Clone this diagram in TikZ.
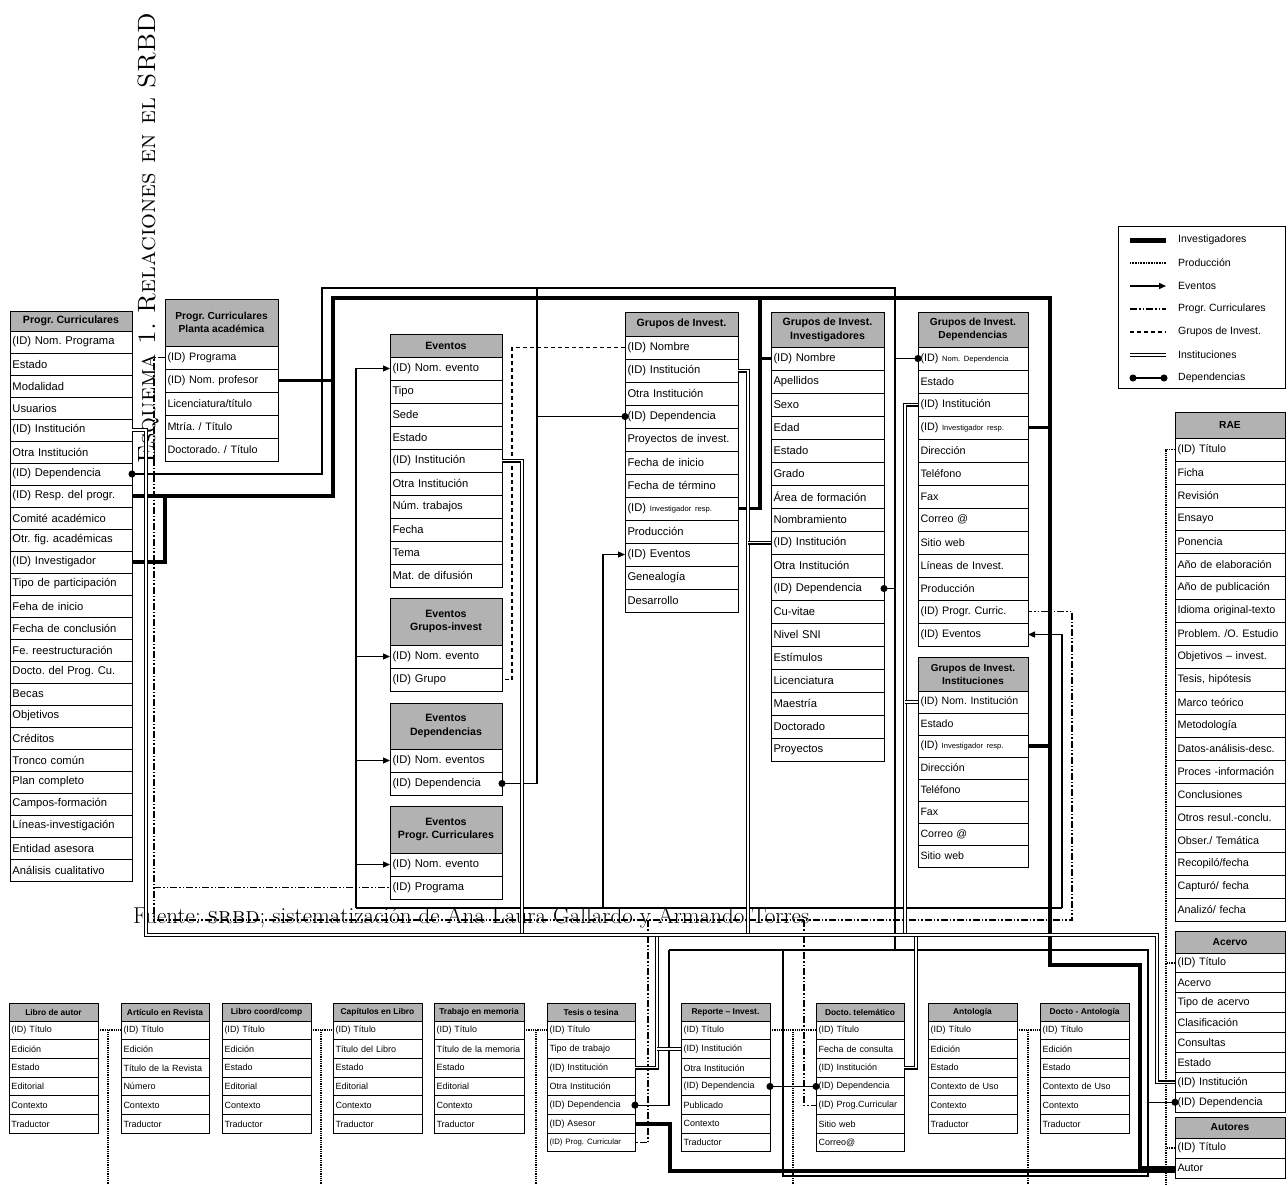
\documentclass[tikz,border=0pt]{standalone}
\usepackage{fontspec}
\newfontfamily\arial{Liberation Sans}
\usetikzlibrary{arrows.meta}
\frenchspacing

\newcommand{\chico}{\fontsize{7.6}{8}\selectfont}

% tabla: nombre, x, y, ancho, alto cabecera, alto fila, cabecera, filas, cuerpo de letra
\newcommand{\tabla}[9]{%
  \pgfmathsetmacro{\anch}{#4-5}
  \pgfmathsetmacro{\tcab}{#9-0.6}
  \pgfmathsetmacro{\tbase}{#9*1.22}
  \node[cab, font=\arial\bfseries\fontsize{\tcab}{\tbase}\selectfont,
        minimum width=#4pt, minimum height=#5pt] (#1) at (#2,#3) {#7};
  \foreach \txt [count=\i] in {#8} {
    \pgfmathsetmacro{\yfila}{#3+#5+(\i-1)*#6}
    \node[fila, font=\arial\fontsize{#9}{#9}\selectfont,
          text width=\anch pt, minimum height=#6pt] (#1-\i) at (#2,\yfila) {\txt};
  }
}

\tikzset{
  cab/.style={draw, fill=black!30, line width=1pt, align=center, inner sep=0pt, outer sep=0pt, anchor=north west},
  fila/.style={draw, fill=white, line width=1pt, align=left, inner xsep=2.5pt, inner ysep=0pt, outer sep=0pt, anchor=north west},
  lin/.style={line width=1.1pt},
  inv/.style={line width=3.8pt},
  prod/.style={line width=1.8pt, dash pattern=on 0.9pt off 0.9pt},
  evt/.style={line width=1.1pt, -{Triangle[length=7pt,width=6pt]}},
  pcur/.style={line width=1.3pt, dash pattern=on 7pt off 2pt on 1.5pt off 2pt on 1.5pt off 2pt},
  grp/.style={line width=1.3pt, dash pattern=on 4pt off 3pt},
  inst/.style={line width=1.4pt, double=white, double distance=1.2pt},
  dep/.style={line width=1.1pt},
  pto/.style={-{Circle[length=7pt]}, shorten >=-3.5pt},
  ptoi/.style={{Circle[length=7pt]}-, shorten <=-3.5pt},
  ptos/.style={{Circle[length=7pt]}-{Circle[length=7pt]}, shorten <=-3.5pt, shorten >=-3.5pt},
  ley/.style={anchor=west, inner sep=0pt, font=\arial\fontsize{10.5}{12}\selectfont}
}

\begin{document}
\begin{tikzpicture}[x=1pt,y=-1pt]
\useasboundingbox (0,0) rectangle (1288,1184);

% titulo y fuente
\node[rotate=90, inner sep=0pt, font=\fontsize{25}{25}\selectfont] (titulo) at (148,238) {\textsc{Esquema 1. Relaciones en el SRBD}};
\node[anchor=west, inner sep=0pt, font=\fontsize{23}{24}\selectfont] (fuente) at (133,918) {Fuente: \textsc{srbd}; sistematización de Ana Laura Gallardo y Armando Torres};

% tablas de arriba
\tabla{pc}{10}{311}{122}{20}{22}{Progr. Curriculares}{{(ID) Nom. Programa}, Estado, Modalidad, Usuarios, {(ID) Institución}, Otra Institución, {(ID) Dependencia}, {(ID) Resp. del progr.}, Comité académico, Otr. fig. académicas, {(ID) Investigador}, Tipo de participación, Feha de inicio, Fecha de conclusión, Fe. reestructuración, Docto. del Prog. Cu., Becas, Objetivos, Créditos, Tronco común, Plan completo, Campos-formación, Líneas-investigación, Entidad asesora, Análisis cualitativo}{11.2}
\tabla{pcpa}{165}{299}{113}{47}{23}{Progr. Curriculares\\Planta académica}{{(ID) Programa}, {(ID) Nom. profesor}, Licenciatura/título, Mtría. / Título, Doctorado. / Título}{10.8}
\tabla{ev}{390}{334}{112}{23}{23}{Eventos}{{(ID) Nom. evento}, Tipo, Sede, Estado, {(ID) Institución}, Otra Institución, Núm. trabajos, Fecha, Tema, Mat. de difusión}{11.2}
\tabla{egi}{390}{598}{112}{47}{23}{Eventos\\Grupos-invest}{{(ID) Nom. evento}, {(ID) Grupo}}{11.2}
\tabla{ed}{390}{703}{112}{46}{23}{Eventos\\Dependencias}{{(ID) Nom. eventos}, {(ID) Dependencia}}{11.2}
\tabla{epc}{390}{806}{112}{47}{23}{Eventos\\Progr. Curriculares}{{(ID) Nom. evento}, {(ID) Programa}}{11.2}
\tabla{gi}{625}{312}{113}{24}{23}{Grupos de Invest.}{{(ID) Nombre}, {(ID) Institución}, Otra Institución, {(ID) Dependencia}, Proyectos de invest., Fecha de inicio, Fecha de término, {(ID) {\chico Investigador resp.}}, Producción, {(ID) Eventos}, Genealogía, Desarrollo}{11.2}
\tabla{gii}{771}{312}{113}{35}{23}{Grupos de Invest.\\Investigadores}{{(ID) Nombre}, Apellidos, Sexo, Edad, Estado, Grado, Área de formación, Nombramiento, {(ID) Institución}, Otra Institución, {(ID) Dependencia}, Cu-vitae, Nivel SNI, Estímulos, Licenciatura, Maestría, Doctorado, Proyectos}{11.2}
\tabla{gid}{918}{312}{110}{35}{23}{Grupos de Invest.\\Dependencias}{{(ID) {\chico Nom. Dependencia}}, Estado, {(ID) Institución}, {(ID) {\chico Investigador resp.}}, Dirección, Teléfono, Fax, Correo @, Sitio web, Líneas de Invest., Producción, {(ID) Progr. Curric.}, {(ID) Eventos}}{10.8}
\tabla{gin}{918}{657}{110}{34}{22}{Grupos de Invest.\\Instituciones}{{(ID) Nom. Institución}, Estado, {(ID) {\chico Investigador resp.}}, Dirección, Teléfono, Fax, Correo @, Sitio web}{10.6}
\tabla{rae}{1175}{412}{110}{26}{23}{RAE}{{(ID) Título}, Ficha, Revisión, Ensayo, Ponencia, Año de elaboración, Año de publicación, Idioma original-texto, Problem. /O. Estudio, Objetivos – invest., {Tesis, hipótesis}, Marco teórico, Metodología, Datos-análisis-desc., Proces -información, Conclusiones, Otros resul.-conclu., Obser./ Temática, Recopiló/fecha, Capturó/ fecha, Analizó/ fecha}{10.8}
\tabla{ace}{1175}{931}{110}{22}{19.9}{Acervo}{{(ID) Título}, Acervo, Tipo de acervo, Clasificación, Consultas, Estado, {(ID) Institución}, {(ID) Dependencia}}{10.8}
\tabla{aut}{1175}{1117}{110}{21}{20}{Autores}{{(ID) Título}, Autor}{10.8}

% tablas de abajo
\tabla{la}{9}{1003}{89}{18}{18.7}{Libro de autor}{{(ID) Título}, Edición, Estado, Editorial, Contexto, Traductor}{9}
\tabla{ar}{121}{1003}{88}{18}{18.7}{Artículo en Revista}{{(ID) Título}, Edición, Título de la Revista, Número, Contexto, Traductor}{9}
\tabla{lc}{222}{1003}{89}{18}{18.7}{Libro coord/comp}{{(ID) Título}, Edición, Estado, Editorial, Contexto, Traductor}{9}
\tabla{cl}{333}{1003}{89}{18}{18.7}{Capítulos en Libro}{{(ID) Título}, Título del Libro, Estado, Editorial, Contexto, Traductor}{9}
\tabla{tm}{434}{1003}{90}{18}{18.7}{Trabajo en memoria}{{(ID) Título}, Título de la memoria, Estado, Editorial, Contexto, Traductor}{9}
\tabla{te}{547}{1003}{88}{18}{18.7}{Tesis o tesina}{{(ID) Título}, Tipo de trabajo, {(ID) Institución}, Otra Institución, {(ID) Dependencia}, {(ID) Asesor}, {{\fontsize{7.8}{8}\selectfont (ID) Prog. Curricular}}}{9}
\tabla{re}{681}{1003}{89}{18}{18.7}{Reporte – Invest.}{{(ID) Título}, {(ID) Institución}, Otra Institución, {(ID) Dependencia}, Publicado, Contexto, Traductor}{9}
\tabla{dt}{816}{1003}{88}{18}{18.7}{Docto. telemático}{{(ID) Título}, Fecha de consulta, {(ID) Institución}, {(ID) Dependencia}, {(ID) Prog.Curricular}, Sitio web, Correo@}{9}
\tabla{an}{928}{1003}{89}{18}{18.7}{Antología}{{(ID) Título}, Edición, Estado, Contexto de Uso, Contexto, Traductor}{9}
\tabla{da}{1040}{1003}{89}{18}{18.7}{Docto - Antología}{{(ID) Título}, Edición, Estado, Contexto de Uso, Contexto, Traductor}{9}

% Investigadores
\coordinate (t1) at (333,298);
\coordinate (t2) at (1050,298);
\coordinate (t3) at (760,298);
\coordinate (t4) at (1050,965);
\coordinate (t5) at (1140,965);
\draw[inv] (pc-8.east) -| (t1) -- (t2) -- (t4) -- (t5) |- (aut-2.west);
\draw[inv] (pc-11.east) -| ([xshift=33pt]pc-8.east);
\draw[inv] (pcpa-2.east) -- (pcpa-2.east -| t1);
\draw[inv] (gi-8.east) -| (t3);
\draw[inv] (gii-1.west) -- (gii-1.west -| t3);
\draw[inv] (gid-4.east) -- (gid-4.east -| t2);
\draw[inv] (gin-3.east) -- (gin-3.east -| t2);
\draw[inv] (te-6.east) -- ++(35,0) |- ([yshift=-3pt]aut-2.west);

% Produccion
\draw[prod] (la-1.east) -- (ar-1.west);
\draw[prod] ([xshift=10pt]la-1.east) -- ++(0,160);
\draw[prod] (lc-1.east) -- (cl-1.west);
\draw[prod] ([xshift=10pt]lc-1.east) -- ++(0,160);
\draw[prod] (tm-1.east) -- (te-1.west);
\draw[prod] ([xshift=12pt]tm-1.east) -- ++(0,160);
\draw[prod] (re-1.east) -- (dt-1.west);
\draw[prod] ([xshift=23pt]re-1.east) -- ++(0,160);
\draw[prod] (an-1.east) -- (da-1.west);
\draw[prod] ([xshift=11pt]an-1.east) -- ++(0,160);
\coordinate (r1) at (1166,1184);
\draw[prod] (rae-1.west) -| (r1);
\draw[prod] (ace-1.west) -- (ace-1.west -| r1);
\draw[prod] (aut-1.west) -- (aut-1.west -| r1);

% Eventos
\coordinate (e1) at (356,908);
\coordinate (e2) at (1062,908);
\coordinate (e3) at (603,908);
\draw[lin] (e1) -- (e2);
\draw[evt] (e1) |- (ev-1.west);
\draw[evt] (egi-1.west -| e1) -- (egi-1.west);
\draw[evt] (ed-1.west -| e1) -- (ed-1.west);
\draw[evt] (epc-1.west -| e1) -- (epc-1.west);
\draw[evt] (e2) |- (gid-13.east);
\draw[evt] (e3) |- (gi-10.west);

% Progr. Curriculares
\coordinate (p1) at (154,920);
\coordinate (p2) at (1072,920);
\coordinate (p3) at (648,920);
\coordinate (p4) at (804,920);
\draw[pcur] (pcpa-1.west) -| (p1) -- (p2) |- (gid-12.east);
\draw[pcur] (epc-2.west -| p1) -- (epc-2.west);
\draw[pcur] (p3) |- (te-7.east);
\draw[pcur] (p4) |- (dt-5.west);

% Grupos de Invest.
\draw[grp] (gi-1.west) -| ([xshift=10pt]egi-2.east) -- (egi-2.east);

% Dependencias
\coordinate (d1) at (322,288);
\coordinate (d2) at (895,288);
\coordinate (d3) at (537,288);
\coordinate (d4) at (895,950);
\coordinate (d5) at (669,950);
\coordinate (d6) at (1148,950);
\coordinate (d7) at (783,950);
\coordinate (d8) at (783,1176);
\draw[dep, ptoi] (pc-7.east) -| (d1) -- (d2) -- (d4);
\draw[dep, pto] (gii-11.east -| d2) -- (gii-11.east);
\draw[dep, pto] (gid-1.west -| d2) -- (gid-1.west);
\draw[dep, pto] (d3) |- (gi-4.west);
\draw[dep, pto] (d3) |- (ed-2.east);
\draw[dep] (d5) -- (d6) -- (d6 |- d8) -- (d8) -- (d7);
\draw[dep, pto] (d5) |- (te-5.east);
\draw[dep, ptos] (re-4.east) -- (dt-4.west);
\draw[dep, pto] (ace-8.west -| d6) -- (ace-8.west);

% Instituciones
\coordinate (i0) at (146,935);
\coordinate (i1) at (522,935);
\coordinate (i2) at (748,935);
\coordinate (i3) at (905,935);
\coordinate (i4) at (657,935);
\coordinate (i5) at (916,935);
\coordinate (i9) at (1157,935);
\draw[inst] (ev-5.east) -| (i1);
\draw[inst] (gi-2.east) -| (i2);
\draw[inst] (gii-9.west) -- (gii-9.west -| i2);
\draw[inst] (gid-3.west) -| (i3);
\draw[inst] (gin-1.west) -- (gin-1.west -| i3);
\draw[inst] (i4) |- (te-3.east);
\draw[inst] (re-2.west) -- (re-2.west -| i4);
\draw[inst] (i5) |- (dt-3.east);
\draw[inst] (pc-5.east) -| (i0) -- (i9) |- (ace-7.west);

% leyenda
\draw[line width=1pt] (1118,226) rectangle (1285,388);
\node[ley] (l1) at (1178,240) {Investigadores};
\node[ley] (l2) at (1178,263) {Producción};
\node[ley] (l3) at (1178,286) {Eventos};
\node[ley] (l4) at (1178,309) {Progr. Curriculares};
\node[ley] (l5) at (1178,332) {Grupos de Invest.};
\node[ley] (l6) at (1178,355) {Instituciones};
\node[ley] (l7) at (1178,378) {Dependencias};
\draw[line width=5pt] ([xshift=-48pt]l1.west) -- ([xshift=-12pt]l1.west);
\draw[line width=1.2pt, dash pattern=on 0.8pt off 0.8pt] ([xshift=-48pt]l2.west) -- ([xshift=-12pt]l2.west);
\draw[evt, line width=1.5pt] ([xshift=-48pt]l3.west) -- ([xshift=-12pt]l3.west);
\draw[pcur, line width=1.5pt] ([xshift=-48pt]l4.west) -- ([xshift=-12pt]l4.west);
\draw[grp, line width=1.5pt] ([xshift=-48pt]l5.west) -- ([xshift=-12pt]l5.west);
\draw[line width=1.8pt, double=white, double distance=1.2pt] ([xshift=-48pt]l6.west) -- ([xshift=-12pt]l6.west);
\draw[dep, ptos] ([xshift=-45pt]l7.west) -- ([xshift=-14pt]l7.west);

\end{tikzpicture}
\end{document}
